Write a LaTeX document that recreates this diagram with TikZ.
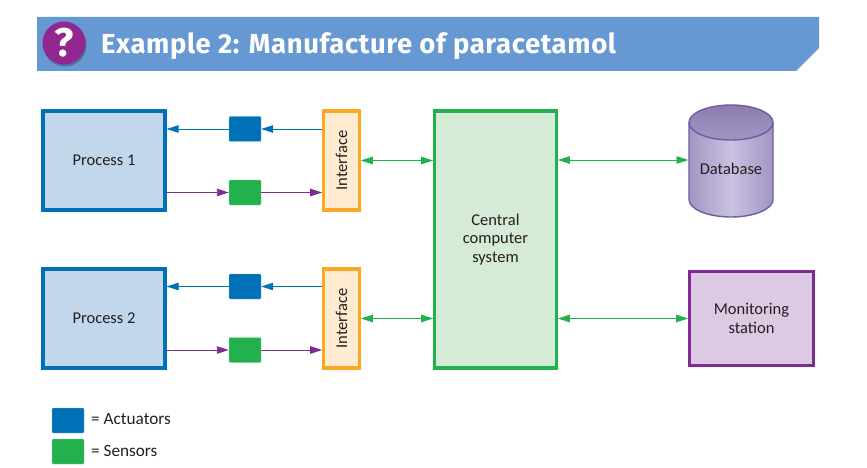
\documentclass[tikz,border=0pt]{standalone}
\usepackage{fontspec}
\setmainfont{Carlito}
\newfontfamily\titlefont[LetterSpace=2.2]{Fira Sans}
\newfontfamily\qfont{Fira Sans}
\usetikzlibrary{arrows.meta,shadows,fadings}
\definecolor{hdr}{HTML}{6699D3}
\definecolor{qpurple}{HTML}{92278F}
\definecolor{actblue}{HTML}{0071B6}
\definecolor{blfill}{HTML}{C2D6EC}
\definecolor{sensgreen}{HTML}{22B14C}
\definecolor{grfill}{HTML}{D5EBD6}
\definecolor{orline}{HTML}{F9A825}
\definecolor{orfill}{HTML}{FEEBD0}
\definecolor{purline}{HTML}{7F2B91}
\definecolor{purfill}{HTML}{DCC9E4}
\definecolor{cylline}{HTML}{6F5BA0}
\definecolor{cyldark}{HTML}{A395C2}
\definecolor{cyllight}{HTML}{C9C2E0}
\definecolor{cyltop}{HTML}{8C7DB2}
\definecolor{txt}{HTML}{231F20}
\tikzset{
  boxbase/.style={rectangle,inner sep=0pt,line width=3.2pt,align=center,text=txt,font=\fontsize{16.5}{18.6}\selectfont},
  procbox/.style={boxbase,draw=actblue,fill=blfill,minimum width=122pt,minimum height=99pt},
  ifbox/.style={boxbase,draw=orline,fill=orfill,minimum width=35.5pt,minimum height=99pt},
  cpubox/.style={boxbase,draw=sensgreen,fill=grfill,minimum width=121.5pt,minimum height=257pt},
  monbox/.style={boxbase,draw=purline,fill=purfill,minimum width=123.5pt,minimum height=93.5pt},
  actbox/.style={rectangle,rounded corners=1pt,fill=actblue,draw=actblue!50!white,line width=0.4pt,minimum width=32pt,minimum height=25pt,inner sep=0pt},
  sensbox/.style={rectangle,rounded corners=1pt,fill=sensgreen,draw=sensgreen!50!white,line width=0.4pt,minimum width=32pt,minimum height=25pt,inner sep=0pt},
  lbl/.style={anchor=west,inner sep=0pt,text=txt,font=\fontsize{17.2}{18}\selectfont},
  tip/.style={-{Triangle[length=12pt,width=7.5pt]}},
  bluearrow/.style={tip,draw=actblue,line width=0.9pt},
  purarrow/.style={tip,draw=purline,line width=0.9pt},
  grarrow/.style={{Triangle[length=12pt,width=7.5pt]}-{Triangle[length=12pt,width=7.5pt]},draw=sensgreen,line width=0.9pt},
}
\begin{document}
\begin{tikzpicture}[x=1pt,y=-1pt]
\useasboundingbox (0,0) rectangle (867,468);
% header
\fill[hdr] (37,17) -- (819,17) -- (819,48) -- (796,71) -- (37,71) -- cycle;
\fill[black,opacity=.25] (65,45) circle (21.5);
\node[circle,fill=qpurple,minimum size=43pt,inner sep=0pt,text=white,font=\qfont\bfseries\fontsize{40}{40}\selectfont] (q) at (64,43) {?};
\node[anchor=base west,inner sep=0pt,text=white,font=\titlefont\bfseries\fontsize{27.5}{30}\selectfont] (title) at (101,53.5) {Example 2: Manufacture of paracetamol};
% boxes
\node[procbox] (p1) at (104,160.5) {Process 1};
\node[procbox] (p2) at (104,318.5) {Process 2};
\node[ifbox] (if1) at (341.5,160.5) {\rotatebox{90}{Interface}};
\node[ifbox] (if2) at (341.5,318.5) {\rotatebox{90}{Interface}};
\node[cpubox] (cpu) at (495.5,239.5) {Central\\computer\\system};
\node[monbox] (mon) at (751.5,318.5) {Monitoring\\station};
\node[actbox] (a1) at (245,129) {};
\node[sensbox] (s1) at (245,192.5) {};
\node[actbox] (a2) at (245,286.5) {};
\node[sensbox] (s2) at (245,350) {};
% database
\shade[left color=cyldark,right color=cyldark,middle color=cyllight] (689,122.5) -- (689,199.5) arc[start angle=180,end angle=360,x radius=42,y radius=-17.5] -- (773,122.5) -- cycle;
\draw[cylline,line width=1.4pt] (689,122.5) -- (689,199.5) arc[start angle=180,end angle=0,x radius=42,y radius=17.5] -- (773,122.5);
\shade[top color=cyltop,bottom color=cyldark] (731,122.5) ellipse[x radius=42,y radius=17.5];
\draw[cylline,line width=1.4pt] (731,122.5) ellipse[x radius=42,y radius=17.5];
\node[inner sep=0pt,text=txt,font=\fontsize{16.5}{18}\selectfont] (db) at (731,169) {Database};
\coordinate (dbport) at (688.5,160);
% connectors
\draw[bluearrow] (if1.west |- a1) -- (a1);
\draw[bluearrow] (a1) -- (p1.east |- a1);
\draw[purarrow] (p1.east |- s1) -- (s1);
\draw[purarrow] (s1) -- (if1.west |- s1);
\draw[bluearrow] (if2.west |- a2) -- (a2);
\draw[bluearrow] (a2) -- (p2.east |- a2);
\draw[purarrow] (p2.east |- s2) -- (s2);
\draw[purarrow] (s2) -- (if2.west |- s2);
\draw[grarrow] (if1.east) -- (cpu.west |- if1.east);
\draw[grarrow] (if2.east) -- (cpu.west |- if2.east);
\draw[grarrow] (cpu.east |- dbport) -- (dbport);
\draw[grarrow] (cpu.east |- mon.west) -- (mon.west);
% legend
\node[actbox] (la) at (68,420.5) {};
\node[sensbox] (ls) at (68,451.5) {};
\node[lbl] (lat) at (91,419.5) {= Actuators};
\node[lbl] (lst) at (91,451) {= Sensors};
\end{tikzpicture}
\end{document}
